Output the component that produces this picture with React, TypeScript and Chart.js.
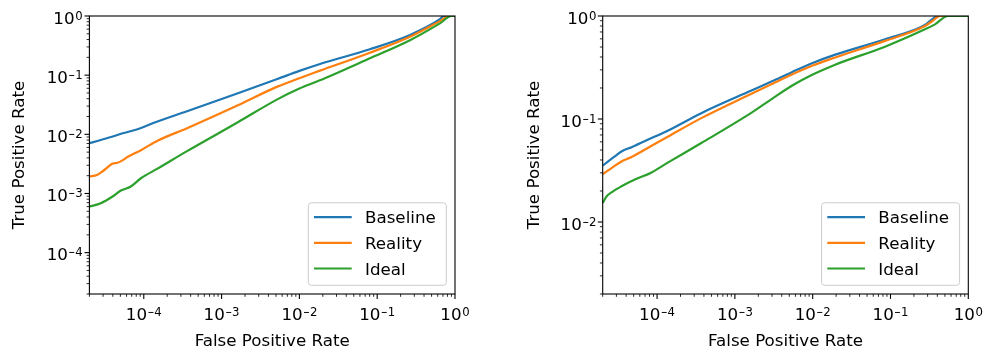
import React, { useEffect, useRef } from 'react';
import { Chart, registerables } from 'chart.js';

Chart.register(...registerables);

const FONT_FAMILY = "'DejaVu Sans', sans-serif";
const FONT_SIZE = 16.7;
const SUP_SIZE = 11.7;

const SERIES_NAMES = ['Baseline', 'Reality', 'Ideal'];
const COLORS = ['#1f77b4', '#ff7f0e', '#2ca02c'];

const X_AXIS_TITLE = 'False Positive Rate';
const Y_AXIS_TITLE = 'True Positive Rate';

// ---------- Left panel ----------
const L_BASELINE_FPR = [2e-5, 2.6e-5, 3.9e-5, 5.5e-5, 8.3e-5, 1.5e-4, 3.6e-4, 1.62e-3, 5.2e-3, 1e-2, 1.8e-2, 8.05e-2, 0.264, 0.64, 0.72, 1];
const L_BASELINE_TPR = [0.0071, 0.0078, 0.0091, 0.0105, 0.0122, 0.0165, 0.0246, 0.0494, 0.086, 0.118, 0.153, 0.274, 0.478, 0.88, 1, 1];

const L_REALITY_FPR = [2e-5, 2.5e-5, 3e-5, 4e-5, 4.6e-5, 6.5e-5, 9.2e-5, 1.5e-4, 3.6e-4, 1.62e-3, 5.2e-3, 1e-2, 1.8e-2, 8.05e-2, 0.264, 0.64, 0.85, 1];
const L_REALITY_TPR = [0.00194, 0.00206, 0.0024, 0.0032, 0.0033, 0.0043, 0.0054, 0.0078, 0.0127, 0.031, 0.064, 0.089, 0.118, 0.24, 0.447, 0.82, 1, 1];

const L_IDEAL_FPR = [2e-5, 2.8e-5, 3.97e-5, 5.08e-5, 6.8e-5, 9.2e-5, 1.5e-4, 3.6e-4, 1.62e-3, 5.2e-3, 1e-2, 1.8e-2, 8.05e-2, 0.264, 0.64, 0.9, 1];
const L_IDEAL_TPR = [0.0006, 0.000685, 0.00089, 0.00112, 0.00131, 0.00181, 0.00263, 0.0052, 0.016, 0.039, 0.0594, 0.081, 0.193, 0.39, 0.75, 1, 1];

// ---------- Right panel ----------
const R_BASELINE_FPR = [2e-5, 2.35e-5, 2.86e-5, 3.49e-5, 4.7e-5, 8.5e-5, 1.39e-4, 3.7e-4, 1.66e-3, 3e-3, 5.4e-3, 1e-2, 1.91e-2, 8.5e-2, 0.277, 0.338, 0.41, 1];
const R_BASELINE_TPR = [0.0352, 0.0388, 0.0434, 0.0484, 0.0533, 0.0653, 0.0774, 0.114, 0.19, 0.232, 0.285, 0.35, 0.419, 0.594, 0.818, 0.92, 1, 1];

const R_REALITY_FPR = [2e-5, 2.6e-5, 3.49e-5, 4.7e-5, 8.5e-5, 1.39e-4, 3.7e-4, 1.66e-3, 3e-3, 5.4e-3, 1e-2, 1.91e-2, 8.5e-2, 0.277, 0.35, 0.43, 1];
const R_REALITY_TPR = [0.0292, 0.0334, 0.0387, 0.0427, 0.055, 0.0677, 0.102, 0.177, 0.219, 0.27, 0.33, 0.394, 0.573, 0.8, 0.9, 1, 1];

const R_IDEAL_FPR = [2e-5, 2.24e-5, 2.6e-5, 3.49e-5, 5.18e-5, 8.5e-5, 1.39e-4, 3.7e-4, 1.66e-3, 3e-3, 5.4e-3, 1e-2, 1.91e-2, 8.5e-2, 0.277, 0.373, 0.55, 1];
const R_IDEAL_TPR = [0.0153, 0.0177, 0.0194, 0.0222, 0.0258, 0.0303, 0.0379, 0.0584, 0.116, 0.157, 0.21, 0.27, 0.335, 0.504, 0.743, 0.83, 1, 1];

// ---------- Axes ----------
const X_MIN = 2e-5;
const X_MAX = 1;
const L_Y_MIN = 2e-5;
const R_Y_MIN = 2e-3;
const Y_MAX = 1;

const X_MAJOR_TICKS = [1e-4, 1e-3, 1e-2, 1e-1, 1];
const X_TICK_LABELS = [['10', '−4'], ['10', '−3'], ['10', '−2'], ['10', '−1'], ['10', '0']];
const L_Y_MAJOR_TICKS = [1e-4, 1e-3, 1e-2, 1e-1, 1];
const L_Y_TICK_LABELS = [['10', '−4'], ['10', '−3'], ['10', '−2'], ['10', '−1'], ['10', '0']];
const R_Y_MAJOR_TICKS = [1e-2, 1e-1, 1];
const R_Y_TICK_LABELS = [['10', '−2'], ['10', '−1'], ['10', '0']];
const MINOR_MULTIPLIERS = [2, 3, 4, 5, 6, 7, 8, 9];

function minorTicks(majors: number[], min: number, max: number) {
  const out: number[] = [];
  const decades = [majors[0] / 10, ...majors];
  if (min < majors[0] / 10) decades.unshift(majors[0] / 100);
  for (const d of decades) {
    for (const k of MINOR_MULTIPLIERS) {
      const v = k * d;
      if (v >= min * (1 - 1e-9) && v <= max * (1 + 1e-9)) out.push(v);
    }
  }
  return out;
}

function drawPowLabel(ctx: CanvasRenderingContext2D, parts: string[], x: number, baseline: number, align: 'center' | 'right') {
  const [base, exp] = parts;
  ctx.font = `${FONT_SIZE}px ${FONT_FAMILY}`;
  const wBase = ctx.measureText(base).width;
  ctx.font = `${SUP_SIZE}px ${FONT_FAMILY}`;
  const hasMinus = exp.startsWith('−');
  const digits = hasMinus ? exp.slice(1) : exp;
  const minusScale = 0.68;
  const wMinus = hasMinus ? ctx.measureText('−').width * minusScale : 0;
  const wDigits = ctx.measureText(digits).width;
  const total = wBase + 0.6 + wMinus + wDigits;
  const start = align === 'center' ? x - total / 2 : x - total;
  ctx.textAlign = 'left';
  ctx.textBaseline = 'alphabetic';
  ctx.fillStyle = '#000';
  ctx.font = `${FONT_SIZE}px ${FONT_FAMILY}`;
  ctx.fillText(base, start, baseline);
  ctx.font = `${SUP_SIZE}px ${FONT_FAMILY}`;
  let cx = start + wBase + 0.6;
  const sb = baseline - 3.8;
  if (hasMinus) {
    ctx.save();
    ctx.translate(cx, sb);
    ctx.scale(minusScale, 1);
    ctx.fillText('−', 0, 0);
    ctx.restore();
    cx += wMinus;
  }
  ctx.fillText(digits, cx, sb);
}

function mplPlugin(panel: any) {
  return {
    id: 'mplAxes',
    afterDatasetsDraw(chart: any) {
      const { ctx, chartArea: a, scales } = chart;
      const xs = scales.x;
      const ys = scales.y;
      ctx.save();

      // spines
      ctx.strokeStyle = '#000';
      ctx.lineWidth = 1.1;
      ctx.strokeRect(a.left, a.top, a.right - a.left, a.bottom - a.top);

      // x ticks
      ctx.lineWidth = 0.83;
      for (const v of minorTicks(X_MAJOR_TICKS, X_MIN, X_MAX)) {
        if (X_MAJOR_TICKS.some((m) => Math.abs(m - v) / m < 1e-9)) continue;
        const px = xs.getPixelForValue(v);
        ctx.beginPath(); ctx.moveTo(px, a.bottom); ctx.lineTo(px, a.bottom + 2.8); ctx.stroke();
      }
      ctx.lineWidth = 1.1;
      X_MAJOR_TICKS.forEach((v, i) => {
        const px = xs.getPixelForValue(v);
        ctx.beginPath(); ctx.moveTo(px, a.bottom); ctx.lineTo(px, a.bottom + 4.9); ctx.stroke();
        drawPowLabel(ctx, X_TICK_LABELS[i], px, a.bottom + 26, 'center');
      });

      // y ticks
      ctx.lineWidth = 0.83;
      ctx.strokeStyle = '#000';
      for (const v of minorTicks(panel.yMajors, panel.yMin, Y_MAX)) {
        if (panel.yMajors.some((m: number) => Math.abs(m - v) / m < 1e-9)) continue;
        const py = ys.getPixelForValue(v);
        ctx.beginPath(); ctx.moveTo(a.left, py); ctx.lineTo(a.left - 2.8, py); ctx.stroke();
      }
      ctx.lineWidth = 1.1;
      panel.yMajors.forEach((v: number, i: number) => {
        const py = ys.getPixelForValue(v);
        ctx.strokeStyle = '#000';
        ctx.beginPath(); ctx.moveTo(a.left, py); ctx.lineTo(a.left - 4.9, py); ctx.stroke();
        drawPowLabel(ctx, panel.yLabels[i], a.left - panel.yLabelGap, py + 7.5, 'right');
      });

      // legend
      const bw = 138;
      const bh = 82.5;
      const bx = a.right - 8.7 - bw;
      const by = a.bottom - 8.7 - bh;
      const r = 3;
      ctx.beginPath();
      ctx.moveTo(bx + r, by);
      ctx.lineTo(bx + bw - r, by);
      ctx.arcTo(bx + bw, by, bx + bw, by + r, r);
      ctx.lineTo(bx + bw, by + bh - r);
      ctx.arcTo(bx + bw, by + bh, bx + bw - r, by + bh, r);
      ctx.lineTo(bx + r, by + bh);
      ctx.arcTo(bx, by + bh, bx, by + bh - r, r);
      ctx.lineTo(bx, by + r);
      ctx.arcTo(bx, by, bx + r, by, r);
      ctx.closePath();
      ctx.fillStyle = 'rgba(255,255,255,0.8)';
      ctx.fill();
      ctx.strokeStyle = '#cccccc';
      ctx.lineWidth = 1;
      ctx.stroke();

      chart.data.datasets.forEach((ds: any, i: number) => {
        const yc = by + 14.3 + i * 25.7;
        ctx.strokeStyle = ds.borderColor;
        ctx.lineWidth = 2.2;
        ctx.beginPath(); ctx.moveTo(bx + 5.7, yc); ctx.lineTo(bx + 43.4, yc); ctx.stroke();
        ctx.fillStyle = '#000';
        ctx.font = `${FONT_SIZE}px ${FONT_FAMILY}`;
        ctx.textAlign = 'left';
        ctx.textBaseline = 'alphabetic';
        ctx.fillText(ds.label, bx + 56.7, yc + 6.1);
      });

      ctx.restore();
    },
  };
}

const PANELS = [
  {
    left: 0,
    yAxisWidth: 89.4,
    padRight: 37,
    yTitlePad: 10,
    yLabelGap: 6.8,
    yMin: L_Y_MIN,
    yMajors: L_Y_MAJOR_TICKS,
    yLabels: L_Y_TICK_LABELS,
    series: [
      [L_BASELINE_FPR, L_BASELINE_TPR],
      [L_REALITY_FPR, L_REALITY_TPR],
      [L_IDEAL_FPR, L_IDEAL_TPR],
    ],
  },
  {
    left: 492,
    yAxisWidth: 110.7,
    padRight: 15.7,
    yTitlePad: 32.3,
    yLabelGap: 6.2,
    yMin: R_Y_MIN,
    yMajors: R_Y_MAJOR_TICKS,
    yLabels: R_Y_TICK_LABELS,
    series: [
      [R_BASELINE_FPR, R_BASELINE_TPR],
      [R_REALITY_FPR, R_REALITY_TPR],
      [R_IDEAL_FPR, R_IDEAL_TPR],
    ],
  },
];

function makeConfig(panel: any): any {
  const titleFont = { family: FONT_FAMILY, size: FONT_SIZE };
  return {
    type: 'line',
    data: {
      datasets: panel.series.map(([fpr, tpr]: number[][], i: number) => ({
        label: SERIES_NAMES[i],
        data: fpr.map((x, j) => ({ x, y: tpr[j] })),
        borderColor: COLORS[i],
        backgroundColor: COLORS[i],
        borderWidth: 2.2,
        pointRadius: 0,
        cubicInterpolationMode: 'monotone',
        fill: false,
        clip: 0,
        order: 3 - i,
      })),
    },
    options: {
      responsive: false,
      animation: false,
      events: [],
      layout: { padding: { left: 0, right: panel.padRight, top: 16, bottom: 0 } },
      plugins: { legend: { display: false }, tooltip: { enabled: false } },
      scales: {
        x: {
          type: 'logarithmic',
          min: X_MIN,
          max: X_MAX,
          grid: { display: false },
          border: { display: false },
          ticks: { display: false },
          afterFit: (s: any) => { s.height = 58; },
          title: { display: true, text: X_AXIS_TITLE, color: '#000', font: titleFont, padding: { top: 0, bottom: 0.3 } },
        },
        y: {
          type: 'logarithmic',
          min: panel.yMin,
          max: Y_MAX,
          grid: { display: false },
          border: { display: false },
          ticks: { display: false },
          afterFit: (s: any) => { s.width = panel.yAxisWidth; },
          title: { display: true, text: Y_AXIS_TITLE, color: '#000', font: titleFont, padding: { top: panel.yTitlePad, bottom: 0 } },
        },
      },
    },
    plugins: [mplPlugin(panel)],
  };
}

function Panel({ panel }: { panel: any }) {
  const ref = useRef<HTMLCanvasElement | null>(null);
  useEffect(() => {
    if (!ref.current) return;
    const chart = new Chart(ref.current, makeConfig(panel));
    return () => chart.destroy();
  }, [panel]);
  return (
    <canvas
      ref={ref}
      width={492}
      height={352}
      style={{ position: 'absolute', left: panel.left, top: 0, width: 492, height: 352 }}
    />
  );
}

export default function App() {
  return (
    <div style={{ position: 'absolute', left: 0, top: 0, width: 984, height: 352, background: '#fff' }}>
      {PANELS.map((p, i) => (
        <Panel key={i} panel={p} />
      ))}
    </div>
  );
}
